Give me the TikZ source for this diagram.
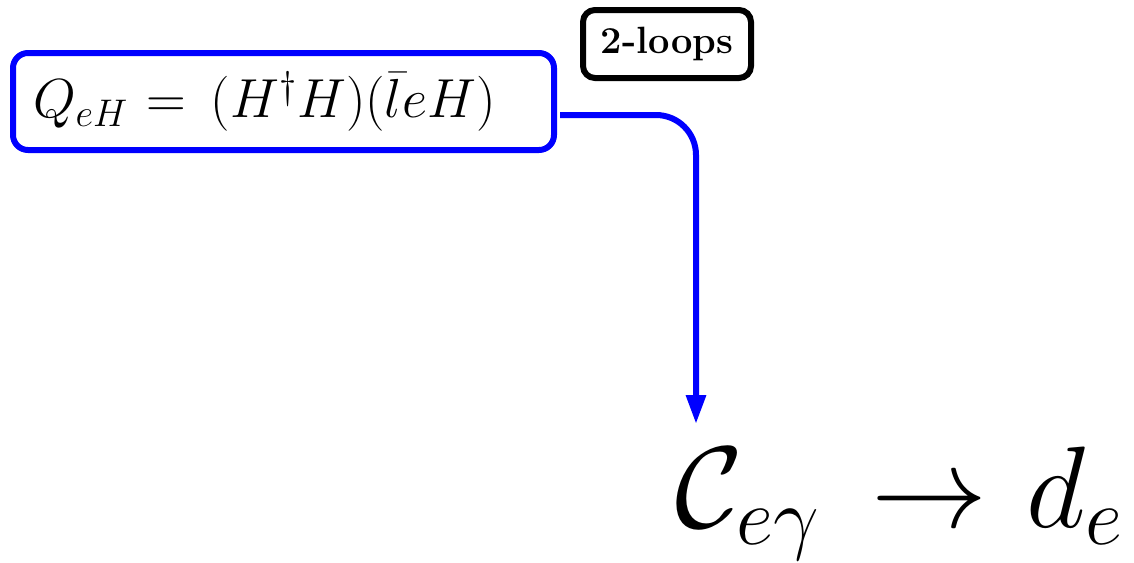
\RequirePackage{fix-cm}
\documentclass[tikz,border=0pt]{standalone}
\usetikzlibrary{arrows.meta,calc}
\begin{document}
\begin{tikzpicture}[x=0.5pt,y=-0.5pt,
  qbox/.style={draw=blue,line width=3pt,rounded corners=7.5pt,text width=250.5pt,align=left,inner xsep=10pt,inner ysep=0pt,minimum height=48.5pt},
  lbox/.style={draw=black,line width=3pt,rounded corners=6pt,minimum width=84pt,minimum height=34pt,inner sep=0pt},
  conn/.style={draw=blue,line width=3pt,rounded corners=20pt,-{Triangle[length=14.5pt,width=9.5pt]}}]
\useasboundingbox (0,0) rectangle (1134,562);
\node[qbox] (q) at (283.5,101.5) {\raisebox{-3pt}{\fontsize{27.5}{33}\selectfont$Q_{eH}\mkern1mu=\mkern3mu(H^\dagger H)(\bar{l}eH)$}};
\node[lbox] (loops) at (667,44) {\fontsize{19}{23}\selectfont\bfseries 2-loops};
\node[anchor=base west,inner sep=0pt] (c) at (675,527) {\fontsize{58}{68}\selectfont$\mathcal{C}_{e\gamma}\mkern3mu\rightarrow\mkern1mu d_e$};
\draw[conn] ([shift={(3,13.5)}]q.east) -| ([shift={(21,-22)}]c.north west);
\end{tikzpicture}
\end{document}
